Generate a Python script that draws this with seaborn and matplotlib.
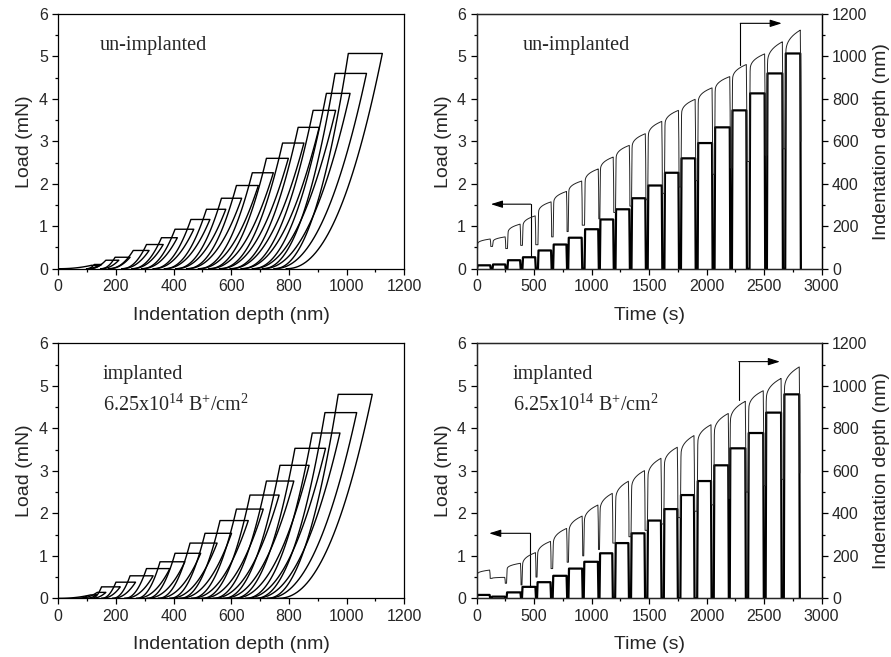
import numpy as np
import pandas as pd
import matplotlib
matplotlib.use("Agg")
import matplotlib.pyplot as plt
from matplotlib.ticker import MultipleLocator
import seaborn as sns

# ---------------- un-implanted ----------------
peak_load_u = [0.08, 0.10, 0.20, 0.27, 0.43, 0.57, 0.73, 0.93, 1.16, 1.40,
               1.66, 1.96, 2.26, 2.60, 2.96, 3.33, 3.73, 4.13, 4.60, 5.07]
hold_start_u = [115, 125, 165, 197, 260, 306, 358, 405, 460, 514,
                566, 618, 673, 722, 778, 832, 884, 930, 960, 1006]
hold_end_u = [140, 150, 210, 249, 315, 364, 413, 470, 526, 581,
              636, 694, 746, 798, 852, 905, 962, 1012, 1069, 1124]
residual_u = [98, 105, 147, 174, 220, 255, 289, 329, 368, 407,
              445, 486, 522, 559, 596, 634, 673, 708, 748, 790]
drop_u = [105, 95, 110, 113, 150, 175, 205, 235, 265, 295,
          325, 355, 385, 415, 445, 475, 505, 535, 565, 600]
t_on_u = [5, 139, 269, 399, 534, 666, 797, 939, 1072, 1208,
          1347, 1488, 1633, 1777, 1922, 2069, 2220, 2373, 2524, 2683]
t_off_u = [124, 254, 384, 515, 653, 787, 919, 1063, 1193, 1333,
           1472, 1615, 1760, 1905, 2052, 2206, 2350, 2509, 2663, 2819]

# ---------------- implanted 6.25e14 B+/cm2 ----------------
peak_load_i = [0.08, 0.04, 0.14, 0.27, 0.38, 0.53, 0.70, 0.86, 1.06, 1.30,
               1.53, 1.83, 2.10, 2.43, 2.76, 3.13, 3.53, 3.89, 4.37, 4.80]
hold_start_i = [112, 94, 135, 150, 200, 249, 306, 353, 405, 457,
                509, 561, 618, 665, 722, 769, 821, 881, 925, 971]
hold_end_i = [133, 99, 165, 215, 268, 329, 387, 439, 494, 551,
              601, 659, 711, 766, 817, 870, 927, 977, 1035, 1089]
residual_i = [93, 69, 115, 150, 188, 230, 271, 307, 346, 386,
              421, 461, 498, 536, 572, 609, 649, 684, 724, 762]
drop_i = [94, 71, 63, 100, 140, 170, 200, 230, 260, 290,
          320, 350, 380, 410, 440, 470, 500, 530, 560, 590]
t_on_i = [3, 131, 261, 395, 526, 662, 799, 932, 1069, 1205,
          1343, 1485, 1628, 1772, 1918, 2062, 2201, 2361, 2513, 2671]
t_off_i = [119, 250, 387, 517, 648, 788, 923, 1060, 1185, 1325,
           1465, 1608, 1750, 1895, 2043, 2193, 2341, 2497, 2652, 2810]

# arrows: (x of vertical, y bottom, y top, x of head) in load/time units
arrows_u = [(471, 0.28, 1.52, 125), (2292, 4.80, 5.78, 2653)]
arrows_i = [(468, 0.27, 1.53, 110), (2280, 4.67, 5.57, 2637)]

M_EXP = 2.2      # P ~ h^m shape of load/unload branches
RAMP = 5         # s, loading / unloading time


def loop_frame(P, a, b, r):
    s = np.linspace(0, 1, 40)
    parts = []
    prev = 0.0
    for i in range(len(P)):
        d = np.concatenate([prev + (a[i] - prev) * s, [a[i], b[i]], b[i] - (b[i] - r[i]) * s])
        p = np.concatenate([P[i] * s ** M_EXP, [P[i], P[i]], P[i] * (1 - s) ** M_EXP])
        parts.append(pd.DataFrame({"depth": d, "load": p, "cycle": i}))
        prev = r[i]
    return pd.concat(parts, ignore_index=True)


def time_frames(P, a, b, u, t_on, t_off):
    lt, lp, dt, dd = [], [], [], []
    s = np.linspace(0, 1, 30)
    prev = 0.0
    for i in range(len(P)):
        lt += [t_on[i], t_on[i] + RAMP, t_off[i] - RAMP, t_off[i]]
        lp += [0, P[i], P[i], 0]
        hold = np.linspace(0, 1, 60)
        dt += [t_on[i]] + list(t_on[i] + RAMP + hold * (t_off[i] - t_on[i] - 2 * RAMP))
        dd += [prev] + list(a[i] + (b[i] - a[i]) * hold ** 0.35)
        dt += list(t_off[i] - RAMP + s * RAMP)
        dd += list(u[i] + (b[i] - u[i]) * (1 - s) ** 0.45)
        prev = u[i]
    load_df = pd.DataFrame({"time": lt, "load": lp})
    depth_df = pd.DataFrame({"time": dt, "depth": dd})
    return load_df, depth_df


sns.set_style("ticks")
plt.rcParams["font.family"] = ["Liberation Sans", "DejaVu Sans"]
plt.rcParams["mathtext.fontset"] = "custom"
plt.rcParams["mathtext.rm"] = "Liberation Serif"
plt.rcParams["mathtext.it"] = "Liberation Serif:italic"
plt.rcParams["axes.linewidth"] = 0.9

fig = plt.figure(figsize=(8.91, 6.57), dpi=100)
ax_tl = fig.add_axes([0.0654, 0.591, 0.3883, 0.3877])
ax_tr = fig.add_axes([0.5348, 0.591, 0.3874, 0.3877])
ax_bl = fig.add_axes([0.0654, 0.0893, 0.3883, 0.3881])
ax_br = fig.add_axes([0.5348, 0.0893, 0.3874, 0.3881])

TICK_FS = 11.5
LABEL_FS = 14
XPAD = 9
SERIF = ["Liberation Serif", "DejaVu Serif"]


def style_axis(ax, xmax, xmaj, xmin):
    ax.set_xlim(0, xmax)
    ax.set_ylim(0, 6)
    ax.xaxis.set_major_locator(MultipleLocator(xmaj))
    ax.xaxis.set_minor_locator(MultipleLocator(xmin))
    ax.yaxis.set_major_locator(MultipleLocator(1))
    ax.yaxis.set_minor_locator(MultipleLocator(0.5))
    ax.tick_params(which="major", direction="out", length=4, width=0.9, labelsize=TICK_FS, color="k")
    ax.tick_params(which="minor", direction="out", length=2.5, width=0.9, color="k")
    for sp in ax.spines.values():
        sp.set_visible(True)
        sp.set_color("k")


def draw_loops(ax, P, a, b, r):
    df = loop_frame(P, a, b, r)
    sns.lineplot(data=df, x="depth", y="load", units="cycle", estimator=None,
                 sort=False, color="k", lw=1.0, ax=ax, legend=False)
    style_axis(ax, 1200, 200, 100)
    ax.set_xlabel("Indentation depth (nm)", fontsize=LABEL_FS, labelpad=XPAD)
    ax.set_ylabel("Load (mN)", fontsize=LABEL_FS)


def draw_time(ax, P, a, b, u, t_on, t_off, arrows):
    load_df, depth_df = time_frames(P, a, b, u, t_on, t_off)
    sns.lineplot(data=load_df, x="time", y="load", estimator=None, sort=False,
                 color="k", lw=1.6, ax=ax, legend=False)
    style_axis(ax, 3000, 500, 250)
    ax.set_xlabel("Time (s)", fontsize=LABEL_FS, labelpad=XPAD)
    ax.set_ylabel("Load (mN)", fontsize=LABEL_FS)
    ax2 = ax.twinx()
    sns.lineplot(data=depth_df, x="time", y="depth", estimator=None, sort=False,
                 color="#222222", lw=0.7, ax=ax2, legend=False)
    ax2.set_ylim(0, 1200)
    ax2.yaxis.set_major_locator(MultipleLocator(200))
    ax2.yaxis.set_minor_locator(MultipleLocator(100))
    ax2.tick_params(which="major", direction="out", length=4, width=0.9, labelsize=TICK_FS, color="k")
    ax2.tick_params(which="minor", direction="out", length=2.5, width=0.9, color="k")
    ax2.set_ylabel("Indentation depth (nm)", fontsize=LABEL_FS)
    ax2.spines["right"].set_color("k")
    for xv, y0, y1, xh in arrows:
        ax.plot([xv, xv], [y0, y1], color="k", lw=0.8)
        ax.annotate("", xy=(xh, y1), xytext=(xv, y1),
                    arrowprops=dict(arrowstyle="-|>,head_length=0.7,head_width=0.22",
                                    color="k", lw=0.8, shrinkA=0, shrinkB=0))


draw_loops(ax_tl, peak_load_u, hold_start_u, hold_end_u, residual_u)
draw_loops(ax_bl, peak_load_i, hold_start_i, hold_end_i, residual_i)
draw_time(ax_tr, peak_load_u, hold_start_u, hold_end_u, drop_u, t_on_u, t_off_u, arrows_u)
draw_time(ax_br, peak_load_i, hold_start_i, hold_end_i, drop_i, t_on_i, t_off_i, arrows_i)

ax_tl.text(0.12, 0.878, "un-implanted", transform=ax_tl.transAxes, family=SERIF,
           fontsize=14.5, va="center")
ax_tr.text(0.133, 0.878, "un-implanted", transform=ax_tr.transAxes, family=SERIF,
           fontsize=14.5, va="center")
dose = r"6.25x10$^{\mathrm{14}}$ B$^{\mathrm{+}}$/cm$^{\mathrm{2}}$"
for ax, x0 in [(ax_bl, 0.129), (ax_br, 0.105)]:
    ax.text(x0, 0.876, "implanted", transform=ax.transAxes, family=SERIF,
            fontsize=14.5, va="center")
    ax.text(x0, 0.758, dose, transform=ax.transAxes, family=SERIF,
            fontsize=14.5, va="center")

fig.savefig("out.png", dpi=100)
